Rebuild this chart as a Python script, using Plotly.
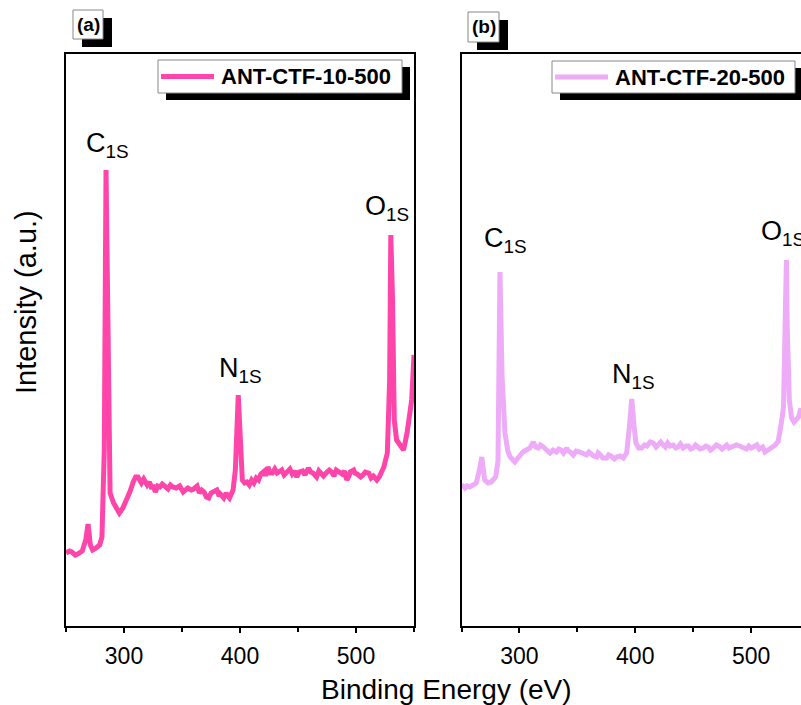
import plotly.graph_objects as go

# ---------------- data ----------------
energy_a = [250, 253, 255, 258, 260, 262, 264, 267, 269, 271, 273, 276, 279, 281, 283, 284.5, 286, 288,
            291, 294, 296, 299, 301, 303, 305, 308, 310, 312, 314, 315, 317, 319, 320, 322, 324, 325, 327,
            329, 331, 333, 335, 338, 340, 342, 345, 348, 351, 353, 355, 358, 360, 363, 365, 367, 369, 371,
            373, 375, 377, 380, 382, 383, 386, 388, 389, 391, 394, 396, 398.5, 400, 402, 404, 406, 408,
            410, 412, 414, 416, 418, 421, 422, 424, 426, 428, 430, 432, 434, 436, 438, 440, 443, 445, 447,
            449, 451, 454, 456, 459, 461, 463, 466, 468, 470, 472, 475, 477, 479, 481, 483, 486, 488, 490,
            492, 494, 495, 498, 499, 501, 504, 506, 508, 511, 513, 515, 518, 520, 521, 524, 527, 529, 530,
            531.5, 533, 535, 538, 541, 544, 546, 548, 550]
intensity_a = [73, 75, 74, 71, 72, 74, 75, 86, 102, 81, 76, 78, 81, 89, 176, 456, 326, 133,
               123, 116, 113, 118, 123, 129, 134, 144, 149, 149, 145, 143, 147, 141, 141, 144, 137, 141, 134,
               140, 139, 142, 140, 137, 141, 139, 138, 140, 134, 137, 138, 136, 137, 140, 133, 136, 134, 129,
               128, 133, 134, 136, 130, 132, 128, 133, 131, 128, 136, 156, 231, 186, 146, 143, 144, 141,
               146, 143, 148, 146, 152, 155, 150, 159, 153, 153, 157, 153, 155, 156, 151, 154, 157, 152, 155,
               149, 154, 155, 151, 158, 154, 153, 149, 155, 153, 150, 154, 156, 154, 150, 156, 153, 152, 155,
               146, 150, 154, 156, 153, 152, 149, 151, 154, 153, 148, 150, 146, 149, 152, 159, 173, 246, 391,
               326, 206, 186, 181, 176, 193, 213, 226, 271]

energy_b = [250, 253, 255, 257, 260, 262.7, 265.5, 267.5, 270, 273, 275.7, 279.5, 281.5, 283.2, 285, 287.5,
            290, 292, 296, 298, 300.5, 303, 306, 309, 312, 314, 316.3, 318, 320.6, 323, 326.4, 329, 332,
            334, 336, 338, 340.8, 342, 344, 346.5, 349, 352.3, 355, 358, 360, 362, 364, 366.7, 368, 370,
            372, 375.3, 377, 379, 382, 384, 387, 389.7, 392.6, 395, 397, 399, 400.6, 403, 405.5, 408, 410,
            413, 415.6, 418, 420, 422, 424.2, 426, 428, 430, 432.8, 435, 437, 439, 441.5, 444, 446, 448,
            450, 452, 454, 456, 458.7, 461, 463, 465, 467.4, 470, 472, 475, 479, 481, 483, 485, 487.5, 490,
            493.2, 496, 498, 500, 502, 505, 507, 510, 512, 515, 517.8, 521, 523.5, 525, 526.4, 528, 529.2,
            530.5, 531.2, 533, 535, 537, 539.3, 541, 543]
intensity_b = [141, 138, 140, 139, 141, 143, 156, 169, 146, 143, 144, 149, 165, 354, 250, 193,
               175, 169, 164, 167, 171, 174, 176, 178, 184, 179, 178, 181, 179, 176, 173, 176, 174,
               177, 176, 173, 178, 175, 174, 171, 175, 174, 172, 171, 174, 172, 170, 169, 173, 171,
               168, 168, 171, 170, 167, 169, 170, 168, 173, 200, 227, 200, 183, 178, 178, 181, 180,
               184, 183, 179, 181, 184, 181, 179, 183, 180, 181, 178, 179, 182, 178, 180, 180, 177,
               178, 181, 179, 177, 178, 180, 179, 176, 178, 181, 180, 177, 181, 178, 179, 180, 181, 180,
               179, 177, 180, 178, 179, 181, 177, 179, 174, 176, 178, 181, 185, 193, 205, 219, 300, 366,
               300, 226, 208, 204, 207, 209, 218, 230]

series_names = ["ANT-CTF-10-500", "ANT-CTF-20-500"]
series_colors = ["#FF45AA", "#EDABF8"]
panel_labels = ["(a)", "(b)"]
peak_labels = ["C<sub>1S</sub>", "N<sub>1S</sub>", "O<sub>1S</sub>"]
peak_pos_a = [(285.8, 481), (400, 256), (526.3, 418)]
peak_pos_b = [(288, 386), (398.9, 250), (527.5, 393)]

# ---------------- layout helpers ----------------
W, H = 801, 705
def px(x):
    return x / W
def py(y):
    return 1 - y / H

FONT = "Liberation Sans, Arial, sans-serif"

fig = go.Figure()
fig.add_trace(go.Scatter(x=energy_a, y=intensity_a, mode="lines", name=series_names[0],
                         line=dict(color=series_colors[0], width=5), xaxis="x", yaxis="y",
                         showlegend=False))
fig.add_trace(go.Scatter(x=energy_b, y=intensity_b, mode="lines", name=series_names[1],
                         line=dict(color=series_colors[1], width=5), xaxis="x2", yaxis="y2",
                         showlegend=False))

xcommon = dict(dtick=100, tick0=0, ticks="outside", ticklen=5, tickwidth=1.5, tickcolor="black",
               showline=True, linecolor="black", linewidth=2, showgrid=False, zeroline=False,
               tickfont=dict(family=FONT, size=23, color="black"), ticklabelstandoff=3,
               minor=dict(dtick=50, ticks="outside", ticklen=4, tickwidth=1.5, tickcolor="black"),
               automargin=False)
ycommon = dict(range=[0, 572], showticklabels=False, ticks="", showgrid=False, zeroline=False,
               showline=True, linecolor="black", linewidth=2, automargin=False)

fig.update_layout(
    width=W, height=H, margin=dict(l=0, r=0, t=0, b=0),
    paper_bgcolor="white", plot_bgcolor="white",
    xaxis=dict(domain=[px(66), px(414)], range=[250, 550], mirror=True, anchor="y", **xcommon),
    yaxis=dict(domain=[py(626), py(54)], mirror=True, anchor="x", **ycommon),
    xaxis2=dict(domain=[px(461.5), 1], range=[250, 543.1], mirror=True, anchor="y2", **xcommon),
    yaxis2=dict(domain=[py(626), py(54)], mirror=False, anchor="x2", **ycommon),
)

shapes = []
annotations = []

# legends (box with drop shadow, line sample, bold text)
legend_boxes = [(158, 60, 402, 93), (552, 61, 795, 93)]
legend_text_x = [221, 615]
for i, (x0, y0, x1, y1) in enumerate(legend_boxes):
    shapes.append(dict(type="rect", xref="paper", yref="paper", x0=px(x0 + 8), x1=px(x1 + 8),
                       y0=py(y0 + 7), y1=py(y1 + 7), fillcolor="black", line=dict(width=0)))
    shapes.append(dict(type="rect", xref="paper", yref="paper", x0=px(x0), x1=px(x1),
                       y0=py(y0), y1=py(y1), fillcolor="white", line=dict(color="#888888", width=1)))
    ym = (y0 + y1) / 2
    shapes.append(dict(type="line", xref="paper", yref="paper", x0=px(x0 + 3), x1=px(x0 + 56),
                       y0=py(ym), y1=py(ym), line=dict(color=series_colors[i], width=5)))
    annotations.append(dict(text="<b>%s</b>" % series_names[i], xref="paper", yref="paper",
                            x=px(legend_text_x[i] - 2), y=py(ym), xanchor="left", yanchor="middle",
                            showarrow=False, font=dict(family=FONT, size=22, color="black")))

# panel labels (a), (b)
label_boxes = [(73, 10, 103, 39), (468, 12, 499, 42)]
for i, (x0, y0, x1, y1) in enumerate(label_boxes):
    shapes.append(dict(type="rect", xref="paper", yref="paper", x0=px(x0 + 9), x1=px(x1 + 9),
                       y0=py(y0 + 8), y1=py(y1 + 8), fillcolor="black", line=dict(width=0)))
    shapes.append(dict(type="rect", xref="paper", yref="paper", x0=px(x0), x1=px(x1),
                       y0=py(y0), y1=py(y1), fillcolor="white", line=dict(color="#888888", width=1)))
    annotations.append(dict(text="<b>%s</b>" % panel_labels[i], xref="paper", yref="paper",
                            x=px((x0 + x1) / 2), y=py((y0 + y1) / 2), xanchor="center",
                            yanchor="middle", showarrow=False,
                            font=dict(family=FONT, size=19, color="black")))

# peak labels
for (xx, yy), t in zip(peak_pos_a, peak_labels):
    annotations.append(dict(text=t, x=xx, y=yy, xref="x", yref="y", showarrow=False,
                            xanchor="center", yanchor="middle",
                            font=dict(family=FONT, size=27, color="black")))
for (xx, yy), t in zip(peak_pos_b, peak_labels):
    annotations.append(dict(text=t, x=xx, y=yy, xref="x2", yref="y2", showarrow=False,
                            xanchor="center", yanchor="middle",
                            font=dict(family=FONT, size=27, color="black")))

# axis titles
annotations.append(dict(text="Binding Energy (eV)", xref="paper", yref="paper", x=px(446),
                        y=py(689), xanchor="center", yanchor="middle", showarrow=False,
                        font=dict(family=FONT, size=28, color="black")))
annotations.append(dict(text="Intensity (a.u.)", xref="paper", yref="paper", x=px(26),
                        y=py(302), xanchor="center", yanchor="middle", showarrow=False, textangle=-90,
                        font=dict(family=FONT, size=29, color="black")))

fig.update_layout(shapes=shapes, annotations=annotations)
fig.write_html("out.html")
